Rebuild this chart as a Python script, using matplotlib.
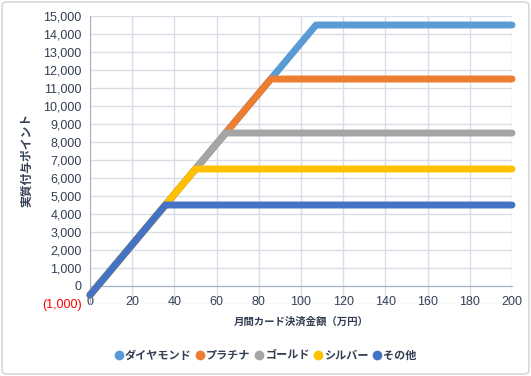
import matplotlib
matplotlib.use("Agg")
import matplotlib.pyplot as plt
from matplotlib.lines import Line2D
from matplotlib.patches import FancyBboxPatch
from matplotlib.ticker import FuncFormatter

plt.rcParams['font.family'] = ['Noto Sans CJK JP', 'DejaVu Sans']

# Series: start, kink, end (万円 -> points)
names = ["ダイヤモンド", "プラチナ", "ゴールド", "シルバー", "その他"]
colors = ["#5B9BD5", "#ED7D31", "#A5A5A5", "#FFC000", "#4472C4"]
x_vals = [
    [0, 107.1, 200],
    [0, 85.7, 200],
    [0, 64.3, 200],
    [0, 50.0, 200],
    [0, 35.7, 200],
]
y_vals = [
    [-500, 14500, 14500],
    [-500, 11500, 11500],
    [-500, 8500, 8500],
    [-500, 6500, 6500],
    [-500, 4500, 4500],
]
x_ticks = list(range(0, 201, 20))
y_ticks = list(range(-1000, 15001, 1000))

text_col = "#343E52"
grid_col = "#D9DDE5"
axis_col = "#A9B2C2"

fig = plt.figure(figsize=(5.31, 3.76), dpi=100)
fig.patches.append(FancyBboxPatch((0.004, 0.005), 0.992, 0.99,
                                  boxstyle="round,pad=0,rounding_size=0.01",
                                  transform=fig.transFigure, facecolor="white",
                                  edgecolor="#D9D9D9", linewidth=1.2, zorder=-10))

ax = fig.add_axes([0.1695, 0.1915, 0.7947, 0.7659])
ax.set_facecolor("none")

for xs, ys, c in zip(x_vals, y_vals, colors):
    ax.plot(xs, ys, color=c, lw=5, solid_capstyle="round",
            solid_joinstyle="round", clip_on=False, zorder=3)

ax.set_xlim(0, 200)
ax.set_ylim(-1000, 15000)
ax.set_xticks(x_ticks)
ax.set_yticks(y_ticks)
ax.grid(True, color=grid_col, lw=1, zorder=0)
ax.set_axisbelow(True)

for s in ["top", "right"]:
    ax.spines[s].set_visible(False)
ax.spines["left"].set_color(axis_col)
ax.spines["bottom"].set_position(("data", 0))
ax.spines["bottom"].set_color(axis_col)
ax.spines["bottom"].set_zorder(1)

def yfmt(v, pos):
    if v < 0:
        return "(%s)" % format(int(-v), ",")
    return format(int(v), ",")

ax.yaxis.set_major_formatter(FuncFormatter(yfmt))
ax.tick_params(axis="both", length=0, colors=text_col)
ax.tick_params(axis="y", pad=6)
ax.tick_params(axis="x", pad=7)
for lab in ax.get_yticklabels() + ax.get_xticklabels():
    lab.set_fontfamily("Liberation Sans")
    lab.set_fontsize(9)
ax.get_yticklabels()[0].set_color("red")

ax.set_ylabel("実質付与ポイント", fontsize=8.5, fontweight="bold", color=text_col, labelpad=6)
ax.set_xlabel("月間カード決済金額（万円）", fontsize=7.5, fontweight="bold", color=text_col,
              va="center")
ax.xaxis.set_label_coords(0.5, -0.062)

handles = [Line2D([], [], ls="none", marker="o", ms=6, color=c) for c in colors]
fig.legend(handles, names, loc="center", bbox_to_anchor=(0.5, 0.056), ncol=5,
           frameon=False, handletextpad=0.15, columnspacing=0.35, handlelength=0.8,
           prop={"weight": "bold", "size": 8}, labelcolor=text_col)

fig.savefig("out.png", dpi=100)
